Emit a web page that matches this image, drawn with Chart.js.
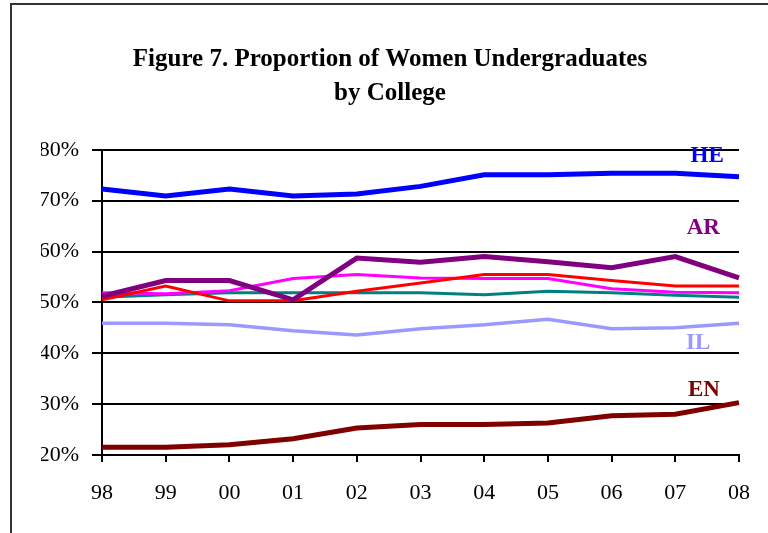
<!DOCTYPE html>
<html>
<head>
<meta charset="utf-8">
<script src="https://cdn.jsdelivr.net/npm/chart.js@4.4.0/dist/chart.umd.min.js"></script>
<style>
    html, body { margin: 0; padding: 0; background: #fff; }
    #wrap { position: relative; width: 768px; height: 533px; }
    #frame {
        position: absolute; left: 10px; top: 3px; right: 0; bottom: 0;
        border-left: 2px solid #333; border-top: 2px solid #333;
        pointer-events: none;
    }
</style>
</head>
<body>
<div id="wrap">
    <canvas id="chart" width="768" height="533"></canvas>
    <div id="frame"></div>
</div>
<script>
// School years (x axis)
const years = ['98', '99', '00', '01', '02', '03', '04', '05', '06', '07', '08'];

// Percent of undergraduates who are women, by college
const heValues = [72.3, 70.9, 72.3, 70.9, 71.3, 72.8, 75.1, 75.1, 75.4, 75.4, 74.7];
const arValues = [51.2, 54.3, 54.3, 50.5, 58.7, 57.9, 59.0, 58.0, 56.8, 59.0, 54.8];
const redValues = [50.5, 53.2, 50.3, 50.3, 52.2, 53.8, 55.5, 55.5, 54.3, 53.2, 53.2];
const magentaValues = [51.9, 51.7, 52.3, 54.7, 55.5, 54.8, 54.7, 54.7, 52.7, 52.0, 51.9];
const tealValues = [51.0, 51.5, 51.9, 51.9, 51.9, 51.9, 51.5, 52.2, 51.9, 51.4, 51.0];
const ilValues = [45.9, 45.9, 45.6, 44.4, 43.6, 44.8, 45.6, 46.7, 44.8, 45.0, 45.9];
const enValues = [21.5, 21.5, 22.0, 23.2, 25.3, 26.0, 26.0, 26.3, 27.7, 28.0, 30.3];

// Y axis ticks
const yTicks = [20, 30, 40, 50, 60, 70, 80];

// In-chart series labels: text, category position, value position
const tagNames = ['HE', 'AR', 'IL', 'EN'];
const tagX = [9.5, 9.44, 9.36, 9.45];
const tagY = [78.7, 64.7, 42.0, 32.7];
const tagColors = ['#0000ff', '#800080', '#9999ff', '#800000'];

const serif = "'Liberation Serif', 'Times New Roman', serif";

function line(label, data, color, width) {
    return {
        label: label,
        data: data,
        borderColor: color,
        backgroundColor: color,
        borderWidth: width,
        pointRadius: 0,
        tension: 0,
        fill: false
    };
}

// Draws the college names next to their lines
const seriesTags = {
    id: 'seriesTags',
    afterDatasetsDraw(chart) {
        const ctx = chart.ctx;
        const xs = chart.scales.x;
        const ys = chart.scales.y;
        ctx.save();
        ctx.font = 'bold 23px ' + serif;
        ctx.textAlign = 'center';
        ctx.textBaseline = 'middle';
        tagNames.forEach((name, i) => {
            ctx.fillStyle = tagColors[i];
            ctx.fillText(name, xs.getPixelForValue(tagX[i]), ys.getPixelForValue(tagY[i]));
        });
        ctx.restore();
    }
};

new Chart(document.getElementById('chart').getContext('2d'), {
    type: 'line',
    data: {
        labels: years,
        datasets: [
            line('HE', heValues, '#0000ff', 5),
            line('AR', arValues, '#800080', 5),
            line('Red', redValues, '#ff0000', 3),
            line('Magenta', magentaValues, '#ff00ff', 3),
            line('Teal', tealValues, '#008080', 3),
            line('IL', ilValues, '#9999ff', 3.5),
            line('EN', enValues, '#800000', 5)
        ]
    },
    options: {
        responsive: false,
        animation: false,
        layout: {
            // left padding keeps the title centred over the framed box
            padding: { left: 41, right: 29, top: 0, bottom: 0 }
        },
        plugins: {
            legend: { display: false },
            tooltip: { enabled: false },
            title: {
                display: true,
                text: ['Figure 7. Proportion of Women Undergraduates', 'by College'],
                color: '#000',
                font: { family: serif, size: 25, weight: 'bold', lineHeight: 1.375 },
                padding: { top: 42, bottom: 39 }
            }
        },
        scales: {
            x: {
                offset: false,
                afterFit: (scale) => { scale.height = 78; },
                grid: {
                    drawOnChartArea: false,
                    drawTicks: true,
                    tickLength: 7,
                    color: '#000',
                    lineWidth: 2
                },
                border: { display: true, color: '#000', width: 2 },
                ticks: {
                    color: '#000',
                    padding: 18,
                    maxRotation: 0,
                    autoSkip: false,
                    font: { family: serif, size: 22 }
                }
            },
            y: {
                min: 20,
                max: 80,
                afterFit: (scale) => { scale.width = 61; },
                afterBuildTicks: (scale) => {
                    scale.ticks = yTicks.map(v => ({ value: v }));
                },
                grid: {
                    color: '#000',
                    lineWidth: 2,
                    tickLength: 10
                },
                border: { display: true, color: '#000', width: 2 },
                ticks: {
                    color: '#000',
                    padding: 13,
                    font: { family: serif, size: 22 },
                    callback: (v) => v + '%'
                }
            }
        }
    },
    plugins: [seriesTags]
});
</script>
</body>
</html>
